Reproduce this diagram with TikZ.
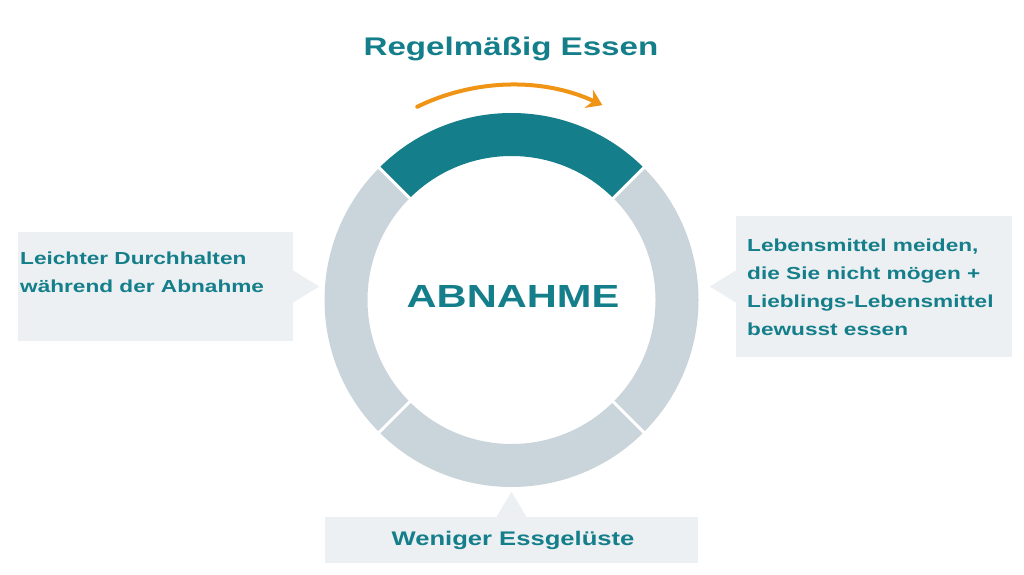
\documentclass[tikz,border=0pt]{standalone}
\usepackage{fontspec}
\usepackage{tikz}
\usetikzlibrary{arrows.meta,calc,positioning}
\newfontfamily\widesans{Liberation Sans}[FakeStretch=1.3]
\definecolor{rgteal}{RGB}{20,126,138}
\definecolor{rggray}{RGB}{201,213,219}
\definecolor{rgbox}{RGB}{236,240,242}
\definecolor{rgorange}{RGB}{240,148,22}

\begin{document}
\begin{tikzpicture}[
  x=1pt, y=1pt,
  every node/.style={font=\widesans\bfseries, text=rgteal},
  seg/.style={fill=rggray},
  hot/.style={fill=rgteal},
  gap/.style={draw=white, line width=3pt},
  callout/.style={fill=rgbox, inner sep=0pt},
  lab/.style={align=left, inner sep=0pt, font=\widesans\bfseries\fontsize{17.4}{28}\selectfont},
  turn/.style={-{Stealth[length=15pt, width=20pt, inset=5pt]}, draw=rgorange,
    line width=4pt, line cap=round}
]
  \useasboundingbox (0,0) rectangle (1024,574);
  \coordinate (c) at (511.5,274);

  % ring of four quarters
  \foreach \a/\st in {45/hot, 135/seg, 225/seg, 315/seg}
    \fill[\st] ($(c)+(\a:187)$) arc[start angle=\a, end angle=\a+90, radius=187]
      -- ($(c)+(\a+90:144)$) arc[start angle=\a+90, end angle=\a, radius=144] -- cycle;
  \foreach \a in {45,135,225,315}
    \draw[gap] ($(c)+(\a:140)$) -- ($(c)+(\a:191)$);

  \node[anchor=base, font=\widesans\bfseries\fontsize{32}{36}\selectfont] (core) at (513,267) {ABNAHME};
  \node[anchor=base, font=\widesans\bfseries\fontsize{25.5}{30}\selectfont] (title) at (511,518) {Regelmäßig Essen};

  \coordinate (from) at ($(c)+(116:215)$);
  \draw[turn] (from) arc[start angle=116, end angle=65, radius=215];

  % callouts
  \node[callout, minimum width=275pt, minimum height=109pt] (lbox) at (155.5,287.5) {};
  \fill[rgbox] ($(lbox.east)+(0,16)$) -- ($(lbox.east)+(26,0)$) -- ($(lbox.east)+(0,-16)$) -- cycle;
  \node[lab, anchor=base west] (ltext) at (20,282) {Leichter Durchhalten\\während der Abnahme};

  \node[callout, minimum width=276pt, minimum height=141pt] (rbox) at (874,287.5) {};
  \fill[rgbox] ($(rbox.west)+(0,16)$) -- ($(rbox.west)+(-26,0)$) -- ($(rbox.west)+(0,-16)$) -- cycle;
  \node[lab, anchor=base west] (rtext) at (747,239)
    {Lebensmittel meiden,\\die Sie nicht mögen +\\Lieblings-Lebensmittel\\bewusst essen};

  \node[callout, minimum width=373pt, minimum height=46pt] (bbox) at (511.5,34) {};
  \fill[rgbox] ($(bbox.north)+(-15,0)$) -- ($(bbox.north)+(0,25)$) -- ($(bbox.north)+(15,0)$) -- cycle;
  \node[anchor=base, font=\widesans\bfseries\fontsize{19.7}{24}\selectfont] (btext) at (513,29) {Weniger Essgelüste};
\end{tikzpicture}
\end{document}
